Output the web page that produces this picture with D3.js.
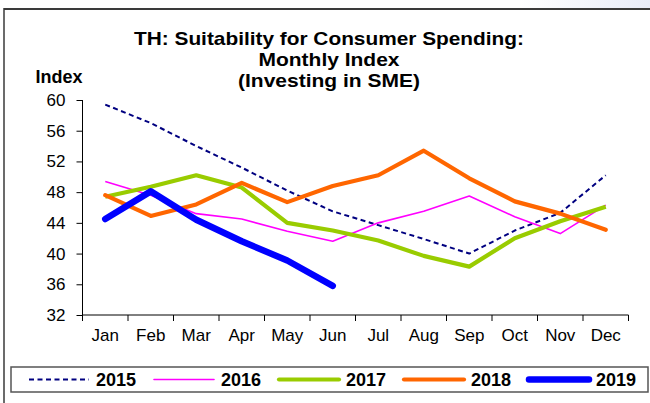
<!DOCTYPE html>
<html>
<head>
<meta charset="utf-8">
<script src="https://cdn.jsdelivr.net/npm/d3@7"></script>
<style>
  html, body { margin: 0; padding: 0; background: #fff; }
  svg { display: block; font-family: "Liberation Sans", Arial, sans-serif; }
</style>
</head>
<body>
<svg id="chart" width="650" height="403"></svg>
<script>
const months = ["Jan","Feb","Mar","Apr","May","Jun","Jul","Aug","Sep","Oct","Nov","Dec"];
const yTicks = [32, 36, 40, 44, 48, 52, 56, 60];
const titleLines = ["TH: Suitability for Consumer Spending:", "Monthly Index", "(Investing in SME)"];
const yAxisTitle = "Index";

const s2015 = [59.4, 57.0, 54.0, 51.2, 48.2, 45.5, 43.7, 41.9, 40.0, 43.0, 45.3, 50.2];
const s2016 = [49.4, 47.6, 45.2, 44.5, 42.9, 41.6, 44.0, 45.5, 47.5, 44.8, 42.6, 46.3];
const s2017 = [47.4, 48.7, 50.2, 48.6, 44.0, 43.0, 41.7, 39.7, 38.3, 42.0, 44.2, 46.1];
const s2018 = [47.6, 44.9, 46.4, 49.2, 46.7, 48.8, 50.2, 53.4, 49.8, 46.8, 45.2, 43.1];
const s2019 = [44.5, 48.1, 44.4, 41.6, 39.1, 35.8];

const seriesNames = ["2015", "2016", "2017", "2018", "2019"];
const seriesValues = [s2015, s2016, s2017, s2018, s2019];
const seriesStyle = [
  { color: "#000080", width: 2, dash: "5,3.5", cap: "butt" },
  { color: "#FF00FF", width: 1.6, dash: null, cap: "butt" },
  { color: "#99CC00", width: 4.2, dash: null, cap: "butt" },
  { color: "#FF6600", width: 4.2, dash: null, cap: "round" },
  { color: "#0000FF", width: 6.5, dash: null, cap: "round" }
];

const svg = d3.select("#chart");

// slide background hint at top-right
const defs = svg.append("defs");
const grad = defs.append("linearGradient").attr("id", "bg").attr("x1", "0").attr("x2", "1");
grad.append("stop").attr("offset", "0").attr("stop-color", "#ffffff");
grad.append("stop").attr("offset", "1").attr("stop-color", "#e8ecf8");
svg.append("rect").attr("x", 520).attr("y", 0).attr("width", 130).attr("height", 8).attr("fill", "url(#bg)");

// frame
svg.append("line").attr("x1", 4).attr("x2", 650).attr("y1", 9).attr("y2", 9)
  .attr("stroke", "#3a3a3a").attr("stroke-width", 2);
svg.append("line").attr("x1", 4).attr("x2", 4).attr("y1", 8).attr("y2", 403)
  .attr("stroke", "#3a3a3a").attr("stroke-width", 1.5);

const plot = { left: 82.5, right: 628.5, top: 100, bottom: 315 };

const x = d3.scaleBand().domain(months).range([plot.left, plot.right]).padding(0);
const y = d3.scaleLinear().domain([32, 60]).range([plot.bottom, plot.top]);

// title (the reference glyphs are horizontally stretched)
const titleWidths = [390, 141, 182];
titleLines.forEach((t, i) => {
  svg.append("text")
    .attr("x", 329 - titleWidths[i] / 2).attr("y", 45 + i * 21)
    .attr("font-weight", "bold").attr("font-size", 18.5).attr("fill", "#000")
    .attr("textLength", titleWidths[i]).attr("lengthAdjust", "spacingAndGlyphs")
    .text(t);
});

svg.append("text").attr("x", 59).attr("y", 83).attr("text-anchor", "middle")
  .attr("font-weight", "bold").attr("font-size", 18).text(yAxisTitle);

// y axis
const yAxis = svg.append("g").attr("transform", `translate(${plot.left},0)`)
  .call(d3.axisLeft(y).tickValues(yTicks).tickSize(6).tickPadding(11).tickSizeOuter(0));
yAxis.select(".domain").remove();
yAxis.append("line").attr("x1", 0).attr("x2", 0).attr("y1", plot.top).attr("y2", plot.bottom + 6)
  .attr("stroke", "#000").attr("stroke-width", 1);
yAxis.selectAll(".tick text").attr("font-size", 17).attr("fill", "#000")
  .attr("font-family", "Liberation Sans, Arial, sans-serif");
yAxis.selectAll(".tick line").attr("stroke", "#000");

// x axis
const xAxis = svg.append("g").attr("transform", `translate(0,${plot.bottom})`)
  .call(d3.axisBottom(x).tickSize(0).tickPadding(14));
xAxis.select(".domain").attr("stroke", "#000").attr("d", `M${plot.left},0H${plot.right}`);
xAxis.selectAll(".tick text").attr("font-size", 17).attr("fill", "#000")
  .attr("font-family", "Liberation Sans, Arial, sans-serif");
const boundaries = months.map(m => x(m)).concat([x(months[months.length - 1]) + x.bandwidth()]);
xAxis.selectAll("line.bt").data(boundaries).enter().append("line").attr("class", "bt")
  .attr("x1", d => d).attr("x2", d => d).attr("y1", 0).attr("y2", 6)
  .attr("stroke", "#000").attr("stroke-width", 1);

// lines
const line = d3.line()
  .x((d, i) => x(months[i]) + x.bandwidth() / 2)
  .y(d => y(d));

seriesValues.forEach((vals, k) => {
  const st = seriesStyle[k];
  svg.append("path").datum(vals)
    .attr("d", line)
    .attr("fill", "none")
    .attr("stroke", st.color)
    .attr("stroke-width", st.width)
    .attr("stroke-dasharray", st.dash)
    .attr("stroke-linejoin", "round")
    .attr("stroke-linecap", st.cap);
});

// legend
svg.append("rect").attr("x", 11).attr("y", 367).attr("width", 637).attr("height", 25)
  .attr("fill", "#fff").attr("stroke", "#555").attr("stroke-width", 1.5);
const lg = svg.append("g");
seriesNames.forEach((name, k) => {
  const st = seriesStyle[k];
  const x0 = 29 + k * 125;
  lg.append("line").attr("x1", x0).attr("x2", x0 + 60).attr("y1", 379.5).attr("y2", 379.5)
    .attr("stroke", st.color).attr("stroke-width", st.width)
    .attr("stroke-dasharray", st.dash).attr("stroke-linecap", st.dash ? "butt" : "round");
  lg.append("text").attr("x", x0 + 67).attr("y", 385.5)
    .attr("font-weight", "bold").attr("font-size", 18).text(name);
});
</script>
</body>
</html>
